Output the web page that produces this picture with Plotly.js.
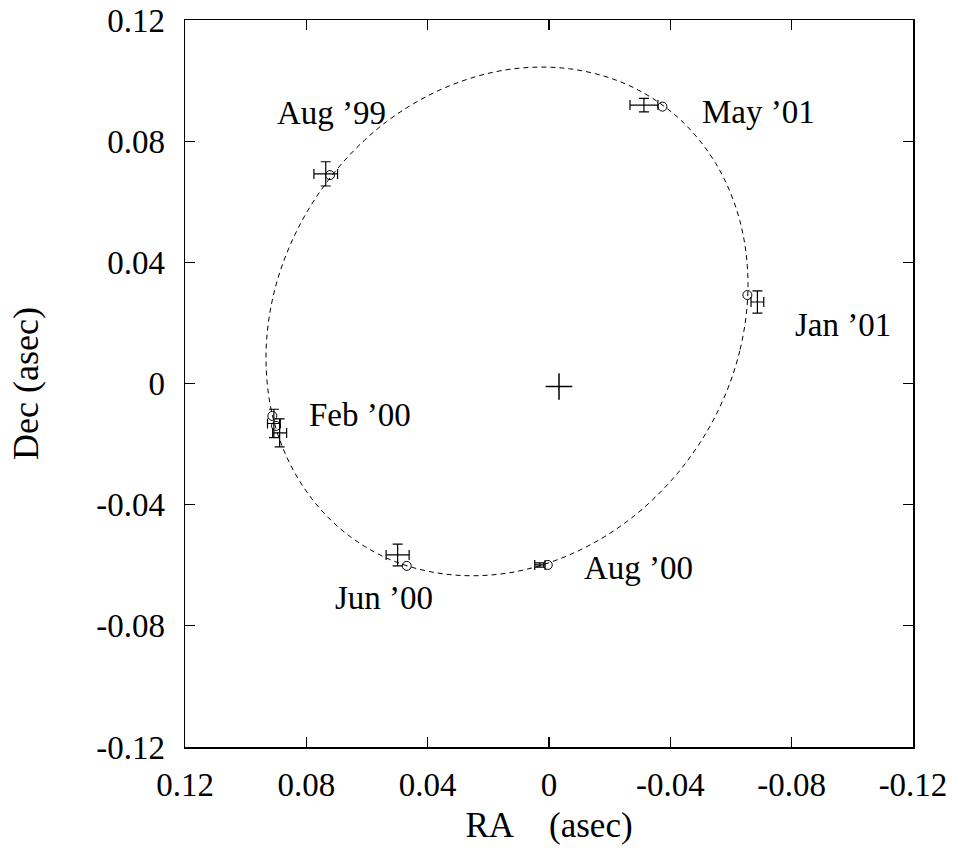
<!DOCTYPE html>
<html>
<head>
<meta charset="utf-8">
<script src="https://cdn.plot.ly/plotly-3.0.1.min.js"></script>
<style>
html,body{margin:0;padding:0;background:#fff;}
#chart{width:953px;height:859px;}
</style>
</head>
<body>
<div id="chart"></div>
<script>
// Measured positions (with errors)
const measRA   = [0.0736, 0.0907, 0.0888, 0.0499, 0.0030, -0.0687, -0.0313];
const measDec  = [0.0692, -0.0132, -0.0163, -0.0566, -0.0599, 0.0269, 0.0919];
const measRAerr  = [0.0039, 0.0021, 0.0023, 0.0038, 0.0017, 0.0021, 0.0046];
const measDecErr = [0.0040, 0.0047, 0.0046, 0.0036, 0.0007, 0.0037, 0.0022];

// Model positions (circles)
const modelRA  = [0.0722, 0.0912, 0.0900, 0.0469, 0.0004, -0.0654, -0.0374];
const modelDec = [0.0688, -0.0107, -0.0140, -0.0602, -0.0599, 0.0292, 0.0914];

// Orbit (dashed ellipse)
const orbitRA  = [-0.0656, -0.0629, -0.0550, -0.0424, -0.0259, -0.0067, 0.0138, 0.0344, 0.0536, 0.0700,
                  0.0826, 0.0906, 0.0933, 0.0906, 0.0826, 0.0700, 0.0536, 0.0344, 0.0138, -0.0067,
                  -0.0259, -0.0424, -0.0550, -0.0629, -0.0656];
const orbitDec = [0.0327, 0.0108, -0.0105, -0.0296, -0.0454, -0.0566, -0.0626, -0.0629, -0.0576, -0.0469,
                  -0.0316, -0.0128, 0.0083, 0.0302, 0.0515, 0.0706, 0.0864, 0.0976, 0.1036, 0.1039,
                  0.0986, 0.0879, 0.0726, 0.0538, 0.0327];

// Centre (primary)
const centerRA = [-0.0033];
const centerDec = [-0.0010];

// Epoch labels
const labelText = ["Aug \u201999", "May \u201901", "Jan \u201901", "Feb \u201900", "Jun \u201900", "Aug \u201900"];
const labelRA   = [0.0903, -0.0498, -0.0805, 0.0798, 0.0712, -0.0109];
const labelDec  = [0.0893, 0.0896, 0.0193, -0.0104, -0.0708, -0.0609];

// Axis ticks
const tickVals = [0.12, 0.08, 0.04, 0, -0.04, -0.08, -0.12];
const tickText = ["0.12", "0.08", "0.04", "0", "-0.04", "-0.08", "-0.12"];

const FONT = "Liberation Serif";

const traces = [
  {
    x: orbitRA, y: orbitDec, type: 'scatter', mode: 'lines',
    line: {color: '#000', width: 1, dash: '5px,4px', shape: 'spline', smoothing: 1},
    hoverinfo: 'skip', showlegend: false
  },
  {
    x: measRA, y: measDec, type: 'scatter', mode: 'markers',
    marker: {size: 1, color: 'rgba(0,0,0,0)'},
    error_x: {type: 'data', array: measRAerr, visible: true, color: '#000', thickness: 1.2, width: 5},
    error_y: {type: 'data', array: measDecErr, visible: true, color: '#000', thickness: 1.2, width: 5},
    showlegend: false
  },
  {
    x: modelRA, y: modelDec, type: 'scatter', mode: 'markers',
    marker: {symbol: 'circle-open', size: 9, color: '#000', line: {color: '#000', width: 1}},
    showlegend: false
  },
  {
    x: centerRA, y: centerDec, type: 'scatter', mode: 'markers',
    marker: {symbol: 'cross-thin-open', size: 19, color: '#000', line: {color: '#000', width: 1.5}},
    showlegend: false
  }
];

const annotations = labelText.map((t, i) => ({
  x: labelRA[i], y: labelDec[i], xref: 'x', yref: 'y', text: t,
  showarrow: false, xanchor: 'left', yanchor: 'middle',
  font: {family: FONT, size: 33, color: '#000'}
}));

const axisCommon = {
  tickmode: 'array', tickvals: tickVals, ticktext: tickText,
  ticks: 'inside', ticklen: 10, tickwidth: 1.2, tickcolor: '#000',
  showline: true, linecolor: '#000', linewidth: 1.5, mirror: 'allticks',
  showgrid: false, zeroline: false,
  tickfont: {family: FONT, size: 33, color: '#000'},
  fixedrange: true
};

const layout = {
  width: 953, height: 859,
  margin: {l: 185, r: 40, t: 20, b: 112, pad: 0},
  paper_bgcolor: '#fff', plot_bgcolor: '#fff',
  font: {family: FONT, color: '#000'},
  showlegend: false,
  xaxis: Object.assign({}, axisCommon, {
    range: [0.12, -0.12],
    ticklabelstandoff: 8,
    title: {text: 'RA\u00a0\u00a0\u00a0 (asec)', font: {family: FONT, size: 35, color: '#000'}, standoff: 10}
  }),
  yaxis: Object.assign({}, axisCommon, {
    range: [-0.12, 0.12],
    ticklabelstandoff: 12,
    title: {text: 'Dec (asec)', font: {family: FONT, size: 36, color: '#000'}, standoff: 46}
  }),
  annotations: annotations
};

Plotly.newPlot('chart', traces, layout, {displayModeBar: false, staticPlot: true});
</script>
</body>
</html>
